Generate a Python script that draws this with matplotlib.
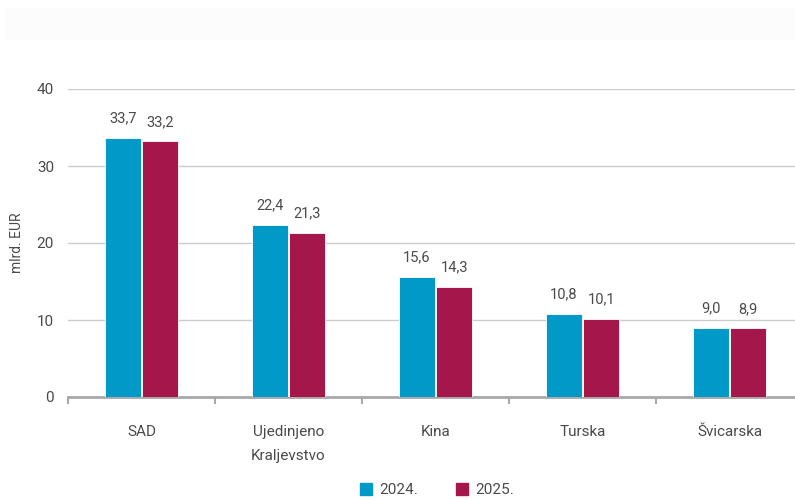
import matplotlib.pyplot as plt
import numpy as np
from matplotlib.patches import Rectangle
from matplotlib.lines import Line2D

# data
countries = ["SAD", "Ujedinjeno\nKraljevstvo", "Kina", "Turska", "Švicarska"]
val_2024 = [33.7, 22.4, 15.6, 10.8, 9.0]
val_2025 = [33.2, 21.3, 14.3, 10.1, 8.9]
series_names = ["2024.", "2025."]

c_blue = "#0099C8"
c_red = "#A5164B"
txt = "#4a4a4a"

plt.rcParams['font.family'] = ['Roboto', 'DejaVu Sans']

fig = plt.figure(figsize=(7.95, 5.0), dpi=100)
# faint title band at the top
fig.patches.append(Rectangle((6/795, 1 - 38/500), 789/795, 29/500,
                             transform=fig.transFigure, color="#fcfcfc", zorder=0))

# category width 147 px starting at x=68, axis runs off the right edge
ax = fig.add_axes([68/795, 103/500, 735/795, 308/500])

x = np.arange(len(countries))
w = 0.245
off = 0.127
b1 = ax.bar(x - off, val_2024, w, color=c_blue, edgecolor="white", linewidth=0.6, zorder=3)
b2 = ax.bar(x + off, val_2025, w, color=c_red, edgecolor="white", linewidth=0.6, zorder=3)

for bars, vals in [(b1, val_2024), (b2, val_2025)]:
    for r, v in zip(bars, vals):
        ax.annotate(f"{v:.1f}".replace(".", ","), (r.get_x() + r.get_width()/2, v),
                    xytext=(0, 9), textcoords="offset points", ha="center", va="bottom",
                    fontsize=10.5, color=txt)

ax.set_xlim(-0.5, len(countries) - 0.5)
ax.set_ylim(0, 40)
ax.set_yticks([0, 10, 20, 30, 40])
ax.yaxis.grid(True, color="#cccccc", linewidth=1.0, zorder=0)
ax.set_axisbelow(True)

ax.set_xticks(x)
ax.set_xticklabels(countries, linespacing=1.9)
ax.set_xticks(np.arange(len(countries)) - 0.5, minor=True)
ax.tick_params(axis="x", which="major", length=0, pad=20, labelsize=11, labelcolor=txt)
ax.tick_params(axis="x", which="minor", length=5, width=1.5, color="#a8a8a8")
ax.tick_params(axis="y", length=0, pad=10, labelsize=11, labelcolor=txt)

for s in ["top", "right", "left"]:
    ax.spines[s].set_visible(False)
ax.spines["bottom"].set_color("#a8a8a8")
ax.spines["bottom"].set_linewidth(2)

ax.set_ylabel("mlrd. EUR", fontsize=10, color=txt)
ax.yaxis.set_label_coords(-44/735, 0.5)

handles = [Line2D([], [], marker="s", linestyle="none", markersize=9, color=c)
           for c in (c_blue, c_red)]
fig.legend(handles, series_names, loc="center", bbox_to_anchor=(436/795, 1 - 490/500),
           ncol=2, frameon=False, fontsize=11, handletextpad=0.35, columnspacing=2.4,
           labelcolor=txt, handlelength=1.0)

fig.savefig("out.png", dpi=100)
